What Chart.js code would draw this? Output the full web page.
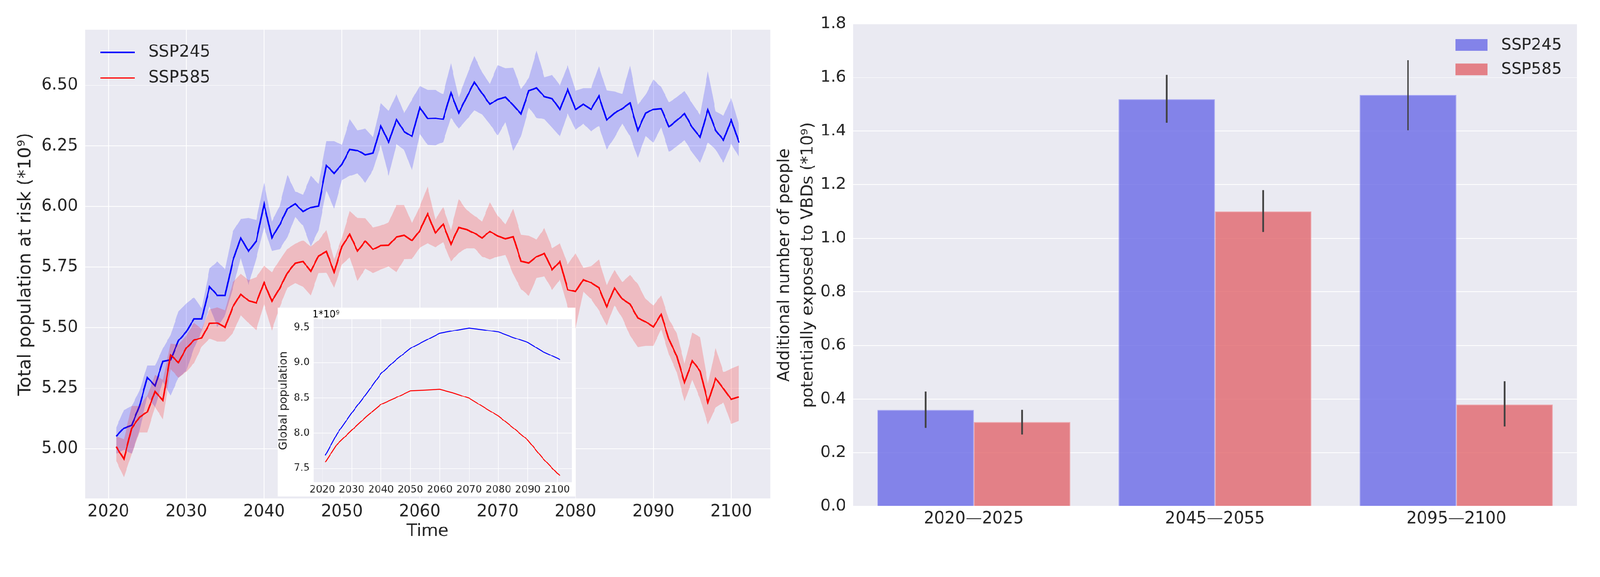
<!DOCTYPE html>
<html><head><meta charset="utf-8">
<script src="https://cdn.jsdelivr.net/npm/chart.js@4.4.1/dist/chart.umd.min.js"></script>
<style>
html,body{margin:0;padding:0;background:#fff;overflow:hidden;}
#wrap{position:absolute;left:0;top:0;width:4292px;height:1476px;transform-origin:0 0;background:#fff;}
canvas{position:absolute;}
#left{left:0;top:0;}
#inset{left:745px;top:825px;z-index:2;}
#right{left:2070px;top:0;}
</style></head><body>
<div id="wrap">
<canvas id="left" width="2070" height="1476"></canvas>
<canvas id="inset" width="799" height="506"></canvas>
<canvas id="right" width="2222" height="1476"></canvas>
</div>
<script>
// fit the 4292x1476 design into the actual viewport
const wrapEl = document.getElementById('wrap');
const sc = Math.min(window.innerWidth / 4292, window.innerHeight / 1476);
wrapEl.style.transform = 'scale(' + sc + ')';

// ---------------- DATA ----------------
const years = [2021,2022,2023,2024,2025,2026,2027,2028,2029,2030,
  2031,2032,2033,2034,2035,2036,2037,2038,2039,2040,
  2041,2042,2043,2044,2045,2046,2047,2048,2049,2050,
  2051,2052,2053,2054,2055,2056,2057,2058,2059,2060,
  2061,2062,2063,2064,2065,2066,2067,2068,2069,2070,
  2071,2072,2073,2074,2075,2076,2077,2078,2079,2080,
  2081,2082,2083,2084,2085,2086,2087,2088,2089,2090,
  2091,2092,2093,2094,2095,2096,2097,2098,2099,2100,2101];

const ssp245Mean = [5.052,5.085,5.097,5.176,5.294,5.260,5.361,5.367,5.446,5.482,
  5.536,5.536,5.669,5.633,5.633,5.777,5.871,5.815,5.857,6.010,
  5.871,5.924,5.991,6.011,5.979,5.996,6.002,6.169,6.137,6.174,
  6.236,6.231,6.213,6.220,6.332,6.265,6.359,6.309,6.289,6.409,
  6.363,6.364,6.360,6.469,6.386,6.450,6.513,6.467,6.422,6.442,
  6.451,6.418,6.382,6.478,6.489,6.453,6.445,6.400,6.483,6.400,
  6.422,6.401,6.456,6.357,6.385,6.404,6.427,6.314,6.385,6.401,
  6.404,6.329,6.355,6.383,6.326,6.286,6.399,6.314,6.274,6.357,6.264];
const ssp245Upper = [5.087,5.160,5.176,5.240,5.343,5.343,5.414,5.470,5.567,5.599,
  5.625,5.579,5.744,5.773,5.740,5.898,5.948,5.952,5.944,6.099,
  5.938,6.002,6.130,6.062,6.048,6.126,6.094,6.270,6.270,6.254,
  6.360,6.314,6.321,6.286,6.426,6.394,6.463,6.385,6.442,6.497,
  6.481,6.481,6.463,6.591,6.450,6.538,6.621,6.554,6.506,6.583,
  6.571,6.573,6.484,6.530,6.644,6.534,6.543,6.500,6.583,6.478,
  6.488,6.488,6.579,6.479,6.475,6.465,6.581,6.420,6.461,6.524,
  6.493,6.430,6.451,6.477,6.425,6.378,6.558,6.392,6.375,6.448,6.336];
const ssp245Lower = [4.980,4.996,4.980,5.075,5.216,5.172,5.277,5.220,5.293,5.321,
  5.414,5.486,5.587,5.502,5.551,5.664,5.789,5.676,5.785,5.914,
  5.816,5.823,5.874,5.956,5.921,5.835,5.902,6.066,5.991,6.109,
  6.126,6.137,6.098,6.151,6.254,6.126,6.257,6.233,6.148,6.300,
  6.254,6.252,6.266,6.366,6.321,6.358,6.396,6.380,6.340,6.293,
  6.348,6.230,6.289,6.408,6.366,6.360,6.325,6.289,6.384,6.316,
  6.342,6.310,6.333,6.235,6.284,6.342,6.290,6.201,6.290,6.264,
  6.326,6.225,6.248,6.274,6.222,6.180,6.264,6.235,6.180,6.258,6.204];

const ssp585Mean = [5.008,4.958,5.085,5.130,5.152,5.236,5.200,5.387,5.356,5.415,
  5.448,5.458,5.517,5.519,5.501,5.587,5.638,5.611,5.602,5.686,
  5.609,5.662,5.726,5.766,5.773,5.733,5.796,5.814,5.729,5.835,
  5.885,5.816,5.857,5.823,5.839,5.840,5.874,5.881,5.859,5.900,
  5.970,5.891,5.927,5.844,5.913,5.905,5.890,5.870,5.897,5.878,
  5.867,5.875,5.774,5.767,5.793,5.806,5.739,5.773,5.656,5.649,
  5.698,5.685,5.665,5.586,5.663,5.618,5.597,5.540,5.524,5.503,
  5.555,5.451,5.383,5.274,5.363,5.321,5.191,5.290,5.248,5.204,5.214];
const ssp585Upper = [5.051,5.039,5.176,5.176,5.220,5.305,5.285,5.434,5.430,5.466,
  5.519,5.494,5.575,5.583,5.571,5.688,5.722,5.696,5.708,5.755,
  5.729,5.779,5.825,5.846,5.860,5.835,5.860,5.903,5.782,5.871,
  5.981,5.952,5.951,5.913,5.921,5.935,6.006,6.006,5.931,6.000,
  6.082,5.946,5.998,5.903,6.031,5.986,5.962,5.938,6.017,5.962,
  5.927,5.990,5.883,5.879,5.864,5.911,5.828,5.848,5.761,5.808,
  5.746,5.753,5.781,5.675,5.738,5.688,5.717,5.680,5.618,5.592,
  5.633,5.534,5.477,5.352,5.479,5.461,5.269,5.415,5.316,5.331,5.344];
const ssp585Lower = [4.950,4.883,4.978,5.067,5.067,5.172,5.122,5.329,5.293,5.317,
  5.353,5.422,5.454,5.442,5.442,5.478,5.551,5.519,5.490,5.597,
  5.488,5.584,5.665,5.683,5.669,5.633,5.726,5.727,5.665,5.761,
  5.789,5.693,5.743,5.726,5.740,5.752,5.729,5.782,5.783,5.830,
  5.848,5.832,5.852,5.773,5.808,5.828,5.828,5.793,5.781,5.793,
  5.800,5.721,5.659,5.631,5.705,5.711,5.656,5.698,5.584,5.494,
  5.649,5.618,5.571,5.508,5.592,5.540,5.467,5.420,5.425,5.425,
  5.493,5.389,5.316,5.196,5.284,5.206,5.100,5.170,5.191,5.102,5.115];

const mainXTicks = [2020,2030,2040,2050,2060,2070,2080,2090,2100];
const mainYTicks = [5.00,5.25,5.50,5.75,6.00,6.25,6.50];

// inset: global population (*10^9)
const insetYears = [2021,2025,2030,2035,2040,2045,2050,2055,2060,2065,2070,2075,2080,2085,2090,2095,2100,2101];
const insetSSP245 = [7.683,7.989,8.286,8.557,8.845,9.037,9.203,9.311,9.416,9.456,9.491,9.465,9.435,9.357,9.287,9.159,9.063,9.042];
const insetSSP585 = [7.587,7.841,8.041,8.234,8.408,8.501,8.600,8.609,8.621,8.565,8.496,8.368,8.242,8.076,7.900,7.648,7.430,7.400];
const insetYTicks = [7.5,8.0,8.5,9.0,9.5];

// bar chart: additional people exposed (*10^9)
const periods = ['2020\u20142025','2045\u20142055','2095\u20142100'];
const barSSP245 = [0.360,1.519,1.534];
const barSSP585 = [0.314,1.100,0.379];
const errSSP245Low = [0.293,1.431,1.403];
const errSSP245High = [0.428,1.610,1.665];
const errSSP585Low = [0.268,1.024,0.298];
const errSSP585High = [0.360,1.180,0.466];
const barYTicks = [0.0,0.2,0.4,0.6,0.8,1.0,1.2,1.4,1.6,1.8];

// ---------------- STYLE ----------------
const FONT = "'DejaVu Sans', sans-serif";
const TXT = '#262626';
const BG = '#eaeaf2';
Chart.defaults.font.family = FONT;
Chart.defaults.color = TXT;

const pts = (xs, ys) => xs.map((x, i) => ({x: x, y: ys[i]}));
const fixTicks = arr => (s => { s.ticks = arr.map(v => ({value: v})); });

function bgPlugin(outer) {
  return { id: 'bg', beforeDraw(chart) {
    const {ctx, chartArea: a} = chart;
    ctx.save();
    if (outer) { ctx.fillStyle = outer; ctx.fillRect(0, 0, chart.width, chart.height); }
    ctx.fillStyle = BG;
    ctx.fillRect(a.left, a.top, a.right - a.left, a.bottom - a.top);
    ctx.restore();
  }};
}

// ---------------- LEFT MAIN CHART ----------------
const leftLegend = { id: 'leftLegend', afterDraw(chart) {
  const ctx = chart.ctx; ctx.save();
  const items = [['SSP245', '#0000ff', 140], ['SSP585', '#ff0000', 209]];
  ctx.font = '44px ' + FONT; ctx.textBaseline = 'middle'; ctx.textAlign = 'left';
  items.forEach(([t, c, y]) => {
    ctx.strokeStyle = c; ctx.lineWidth = 4;
    ctx.beginPath(); ctx.moveTo(269, y); ctx.lineTo(361, y); ctx.stroke();
    ctx.fillStyle = TXT; ctx.fillText(t, 398, y + 1);
  });
  ctx.restore();
}};

new Chart(document.getElementById('left'), {
  type: 'line',
  data: { datasets: [
    { label: 'SSP585', data: pts(years, ssp585Mean), borderColor: '#ff0000', borderWidth: 4, pointRadius: 0, fill: false, tension: 0 },
    { label: 'SSP585 upper', data: pts(years, ssp585Upper), borderWidth: 0, borderColor: 'rgba(0,0,0,0)', pointRadius: 0, fill: false },
    { label: 'SSP585 lower', data: pts(years, ssp585Lower), borderWidth: 0, borderColor: 'rgba(0,0,0,0)', pointRadius: 0, fill: 1, backgroundColor: 'rgba(255,0,0,0.2)' },
    { label: 'SSP245', data: pts(years, ssp245Mean), borderColor: '#0000ff', borderWidth: 4, pointRadius: 0, fill: false, tension: 0 },
    { label: 'SSP245 upper', data: pts(years, ssp245Upper), borderWidth: 0, borderColor: 'rgba(0,0,0,0)', pointRadius: 0, fill: false },
    { label: 'SSP245 lower', data: pts(years, ssp245Lower), borderWidth: 0, borderColor: 'rgba(0,0,0,0)', pointRadius: 0, fill: 4, backgroundColor: 'rgba(0,0,255,0.2)' }
  ]},
  options: {
    responsive: false, animation: false, devicePixelRatio: 1,
    layout: { padding: { left: 0, top: 80, right: 4, bottom: 0 } },
    plugins: { legend: { display: false }, tooltip: { enabled: false } },
    scales: {
      x: { type: 'linear', min: 2017, max: 2105,
        afterBuildTicks: fixTicks(mainXTicks),
        afterFit: s => { s.height = 140; },
        ticks: { callback: v => String(v), font: { size: 44 }, color: TXT, padding: 10, maxRotation: 0, autoSkip: false },
        grid: { color: '#ffffff', lineWidth: 2, drawTicks: false },
        border: { display: false },
        title: { display: true, text: 'Time', font: { size: 46 }, color: TXT, padding: { top: 0, bottom: 23 } } },
      y: { type: 'linear', min: 4.795, max: 6.729,
        afterBuildTicks: fixTicks(mainYTicks),
        afterFit: s => { s.width = 228; },
        ticks: { callback: v => Number(v).toFixed(2), font: { size: 44 }, color: TXT, padding: 19 },
        grid: { color: '#ffffff', lineWidth: 2, drawTicks: false },
        border: { display: false },
        title: { display: true, text: 'Total population at risk (*10\u2079)', font: { size: 48 }, color: TXT, padding: { top: 41, bottom: 0 } } }
    }
  },
  plugins: [bgPlugin(null), leftLegend]
});

// ---------------- INSET ----------------
const insetUnit = { id: 'insetUnit', afterDraw(chart) {
  const ctx = chart.ctx; ctx.save();
  ctx.font = '26px ' + FONT; ctx.fillStyle = '#000'; ctx.textBaseline = 'middle'; ctx.textAlign = 'left';
  ctx.fillText('1*10\u2079', 93, 19);
  ctx.restore();
}};

new Chart(document.getElementById('inset'), {
  type: 'line',
  data: { datasets: [
    { label: 'SSP245', data: pts(insetYears, insetSSP245), borderColor: '#0000ff', borderWidth: 2.5, pointRadius: 0, fill: false, tension: 0 },
    { label: 'SSP585', data: pts(insetYears, insetSSP585), borderColor: '#ff0000', borderWidth: 2.5, pointRadius: 0, fill: false, tension: 0 }
  ]},
  options: {
    responsive: false, animation: false, devicePixelRatio: 1,
    layout: { padding: { left: 0, top: 30.5, right: 10, bottom: 0 } },
    plugins: { legend: { display: false }, tooltip: { enabled: false } },
    scales: {
      x: { type: 'linear', min: 2017, max: 2105,
        afterBuildTicks: fixTicks(mainXTicks),
        afterFit: s => { s.height = 38.5; },
        ticks: { callback: v => String(v), font: { size: 27 }, color: TXT, padding: 4, maxRotation: 0, autoSkip: false },
        grid: { color: '#ffffff', lineWidth: 1.5, drawTicks: false },
        border: { display: false } },
      y: { type: 'linear', min: 7.304, max: 9.617,
        afterBuildTicks: fixTicks(insetYTicks),
        afterFit: s => { s.width = 96; },
        ticks: { callback: v => Number(v).toFixed(1), font: { size: 27 }, color: TXT, padding: 10 },
        grid: { color: '#ffffff', lineWidth: 1.5, drawTicks: false },
        border: { display: false },
        title: { display: true, text: 'Global population', font: { size: 30, lineHeight: 1.1 }, color: TXT, padding: { top: 0, bottom: 0 } } }
    }
  },
  plugins: [bgPlugin('#ffffff'), insetUnit]
});

// ---------------- RIGHT BAR CHART ----------------
const BLUE_BAR = 'rgba(108,108,230,0.82)';
const RED_BAR = 'rgba(226,105,111,0.82)';
const errorBars = { id: 'errorBars', afterDatasetsDraw(chart) {
  const ctx = chart.ctx, ys = chart.scales.y;
  const lows = [errSSP245Low, errSSP585Low], highs = [errSSP245High, errSSP585High];
  ctx.save(); ctx.strokeStyle = '#424242'; ctx.lineWidth = 4.5; ctx.lineCap = 'butt';
  [0, 1].forEach(di => {
    chart.getDatasetMeta(di).data.forEach((el, j) => {
      ctx.beginPath();
      ctx.moveTo(el.x, ys.getPixelForValue(lows[di][j]));
      ctx.lineTo(el.x, ys.getPixelForValue(highs[di][j]));
      ctx.stroke();
    });
  });
  ctx.restore();
}};
const rightLegend = { id: 'rightLegend', afterDraw(chart) {
  const ctx = chart.ctx; ctx.save();
  const ox = -2070;
  const items = [['SSP245', BLUE_BAR, 120.5], ['SSP585', RED_BAR, 186]];
  ctx.font = '43px ' + FONT; ctx.textBaseline = 'middle'; ctx.textAlign = 'left';
  items.forEach(([t, c, y]) => {
    ctx.fillStyle = c; ctx.fillRect(3904 + ox, y - 15.5, 86, 31);
    ctx.fillStyle = TXT; ctx.fillText(t, 4027 + ox, y + 1);
  });
  ctx.restore();
}};

new Chart(document.getElementById('right'), {
  type: 'bar',
  data: { labels: periods, datasets: [
    { label: 'SSP245', data: barSSP245, backgroundColor: BLUE_BAR, borderColor: 'rgba(160,160,245,0.9)', borderWidth: 2, borderSkipped: 'bottom' },
    { label: 'SSP585', data: barSSP585, backgroundColor: RED_BAR, borderColor: 'rgba(240,160,165,0.9)', borderWidth: 2, borderSkipped: 'bottom' }
  ]},
  options: {
    responsive: false, animation: false, devicePixelRatio: 1,
    layout: { padding: { left: 0, top: 64, right: 62, bottom: 0 } },
    datasets: { bar: { categoryPercentage: 0.8, barPercentage: 1.0 } },
    plugins: { legend: { display: false }, tooltip: { enabled: false } },
    scales: {
      x: { afterFit: s => { s.height = 119; },
        ticks: { font: { size: 44 }, color: TXT, padding: 8, maxRotation: 0, autoSkip: false },
        grid: { display: false, drawTicks: false },
        border: { display: false } },
      y: { type: 'linear', min: 0, max: 1.8,
        afterBuildTicks: fixTicks(barYTicks),
        afterFit: s => { s.width = 218.5; },
        ticks: { callback: v => Number(v).toFixed(1), font: { size: 43 }, color: TXT, padding: 19 },
        grid: { color: '#ffffff', lineWidth: 2, drawTicks: false },
        border: { display: false },
        title: { display: true, text: ['Additional number of people', 'potentially exposed to VBDs (*10\u2079)'], font: { size: 44, lineHeight: '63px' }, color: TXT, padding: { top: 4.5, bottom: 0 } } }
    }
  },
  plugins: [bgPlugin(null), errorBars, rightLegend]
});
</script>
</body></html>
